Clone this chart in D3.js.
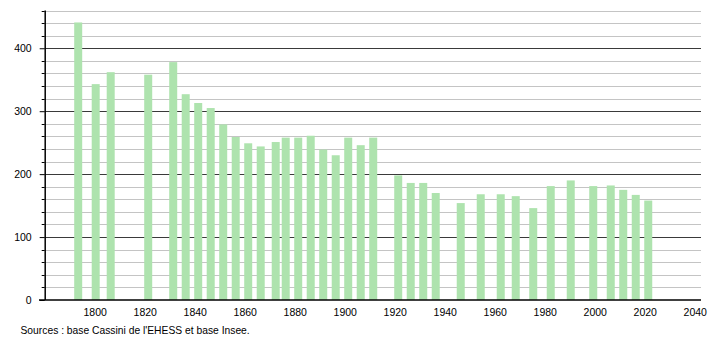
<!DOCTYPE html>
<html>
<head>
<meta charset="utf-8">
<script src="https://cdn.jsdelivr.net/npm/d3@7"></script>
<style>
  html, body { margin: 0; padding: 0; background: #fff; }
  svg { display: block; }
  text { font-family: "Liberation Sans", Arial, sans-serif; fill: #000; }
</style>
</head>
<body>
<svg id="chart" width="710" height="340"></svg>
<script>
const years = [1793, 1800, 1806, 1821, 1831, 1836, 1841, 1846, 1851, 1856, 1861, 1866,
  1872, 1876, 1881, 1886, 1891, 1896, 1901, 1906, 1911, 1921, 1926, 1931, 1936,
  1946, 1954, 1962, 1968, 1975, 1982, 1990, 1999, 2006, 2011, 2016, 2021];
const population = [441, 343, 362, 358, 378, 327, 313, 305, 279, 259, 249, 244,
  251, 258, 258, 261, 239, 230, 258, 246, 258, 198, 186, 186, 170,
  154, 168, 168, 165, 146, 181, 190, 181, 182, 175, 167, 158];
const xTicks = [1800, 1820, 1840, 1860, 1880, 1900, 1920, 1940, 1960, 1980, 2000, 2020, 2040];
const yMajorTicks = [0, 100, 200, 300, 400];
const yMinorTicks = d3.range(20, 461, 20).filter(v => v % 100 !== 0);
const sourceText = "Sources : base Cassini de l'EHESS et base Insee.";

const svg = d3.select("#chart");
const x = d3.scaleLinear().domain([1780, 2042.5]).range([44.7, 701]);
const y = d3.scaleLinear().domain([0, 460]).range([300, 10.5]);
const xLeft = 44.7, xRight = 701;

// minor gridlines
svg.append("g").selectAll("line").data(yMinorTicks).join("line")
  .attr("x1", xLeft).attr("x2", xRight)
  .attr("y1", d => Math.round(y(d)) + 0.5).attr("y2", d => Math.round(y(d)) + 0.5)
  .attr("stroke", "#c4c4c4").attr("stroke-width", 1);
// major gridlines
svg.append("g").selectAll("line").data(yMajorTicks.filter(d => d > 0)).join("line")
  .attr("x1", xLeft).attr("x2", xRight)
  .attr("y1", d => Math.round(y(d)) + 0.5).attr("y2", d => Math.round(y(d)) + 0.5)
  .attr("stroke", "#3a3a3a").attr("stroke-width", 1);

// bars
const barW = 8;
svg.append("g").selectAll("rect").data(years).join("rect")
  .attr("x", d => x(d) - barW / 2 + 1)
  .attr("width", barW)
  .attr("y", (d, i) => y(population[i]))
  .attr("height", (d, i) => y(0) - y(population[i]))
  .attr("fill", "#aee3ae");

// y axis
const yAxis = svg.append("g").attr("transform", `translate(${xLeft},0)`);
yAxis.call(d3.axisLeft(y).tickValues(yMajorTicks).tickSize(5).tickPadding(8).tickFormat(d3.format("d")));
yAxis.select(".domain").remove();
yAxis.selectAll("text").style("font-size", "10.5px").attr("font-family", "Liberation Sans, Arial, sans-serif");
yAxis.selectAll(".tick line").attr("stroke", "#000");
yAxis.append("g").selectAll("line").data(yMinorTicks).join("line")
  .attr("x1", -3).attr("x2", 0)
  .attr("y1", d => Math.round(y(d)) + 0.5).attr("y2", d => Math.round(y(d)) + 0.5)
  .attr("stroke", "#000");
yAxis.append("line").attr("x1", 0.5).attr("x2", 0.5).attr("y1", y(460)).attr("y2", y(0))
  .attr("stroke", "#000").attr("stroke-width", 1.5);

// x axis
const xAxis = svg.append("g").attr("transform", `translate(0,${y(0)})`);
xAxis.call(d3.axisBottom(x).tickValues(xTicks).tickSize(0).tickPadding(9).tickFormat(d3.format("d")));
xAxis.select(".domain").remove();
xAxis.selectAll("text").style("font-size", "10.5px").attr("font-family", "Liberation Sans, Arial, sans-serif");
xAxis.append("line").attr("x1", 39).attr("x2", xRight).attr("y1", 0).attr("y2", 0)
  .attr("stroke", "#000").attr("stroke-width", 1.5);

// source
svg.append("text").attr("x", 20.5).attr("y", 334)
  .style("font-size", "10.3px").text(sourceText);
</script>
</body>
</html>
